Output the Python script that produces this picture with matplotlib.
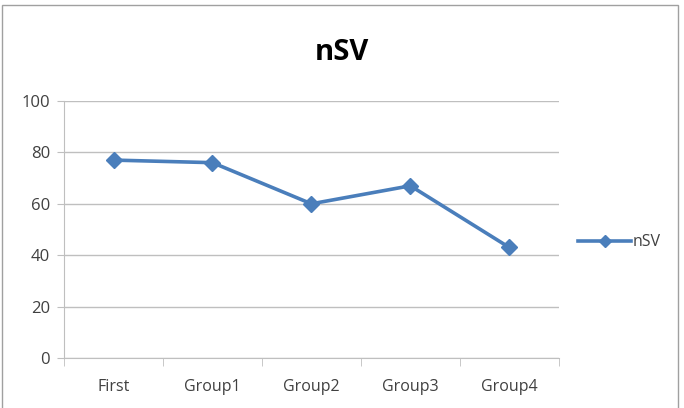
import matplotlib
matplotlib.use("Agg")
import matplotlib.pyplot as plt
from matplotlib.patches import Rectangle
from matplotlib.lines import Line2D

# data
categories = ["First", "Group1", "Group2", "Group3", "Group4"]
nsv = [77, 76, 60, 67, 43]
y_ticks = [0, 20, 40, 60, 80, 100]

plt.rcParams['font.family'] = ['Open Sans', 'DejaVu Sans']

fig = plt.figure(figsize=(6.84, 4.08), dpi=100)
ax = fig.add_axes([0.0936, 0.1225, 0.7234, 0.63])

# outer chart border, like the Excel chart area
fig.patches.append(Rectangle((0.003, -0.01), 0.988, 0.997, transform=fig.transFigure,
                             fill=False, edgecolor="#A0A0A0", linewidth=1.0))

x = list(range(len(categories)))
ax.plot(x, nsv, color="#4A7EBB", linewidth=2.6, marker="D", markersize=8.5,
        label="nSV", zorder=3)

ax.set_xlim(-0.5, len(categories) - 0.5)
ax.set_ylim(0, 100)
ax.set_yticks(y_ticks)
ax.yaxis.grid(True, color="#BFBFBF", linewidth=1.0)
ax.set_axisbelow(True)

ax.set_xticks(x)
ax.set_xticklabels(categories)
ax.set_xticks([i - 0.5 for i in range(len(categories) + 1)], minor=True)
ax.tick_params(axis="x", which="major", length=0, pad=15, labelsize=11.5, labelcolor="#404040")
ax.tick_params(axis="x", which="minor", length=6, color="#BFBFBF", direction="out")
ax.tick_params(axis="y", length=5, color="#BFBFBF", labelsize=12, labelcolor="#404040", pad=5)

for s in ["top", "right"]:
    ax.spines[s].set_visible(False)
ax.spines["left"].set_color("#BFBFBF")
ax.spines["bottom"].set_color("#BFBFBF")

fig.text(0.5, 0.872, "nSV", ha="center", va="center", fontsize=21, fontweight="bold", color="#000000")

handle = Line2D([], [], color="#4A7EBB", linewidth=2.6, marker="D", markersize=6)
ax.legend([handle], ["nSV"], loc="center left", bbox_to_anchor=(1.01, 0.45), frameon=False,
          fontsize=11.5, handlelength=3.3, handletextpad=0.1, labelcolor="#404040")

fig.savefig("out.png", dpi=100)
